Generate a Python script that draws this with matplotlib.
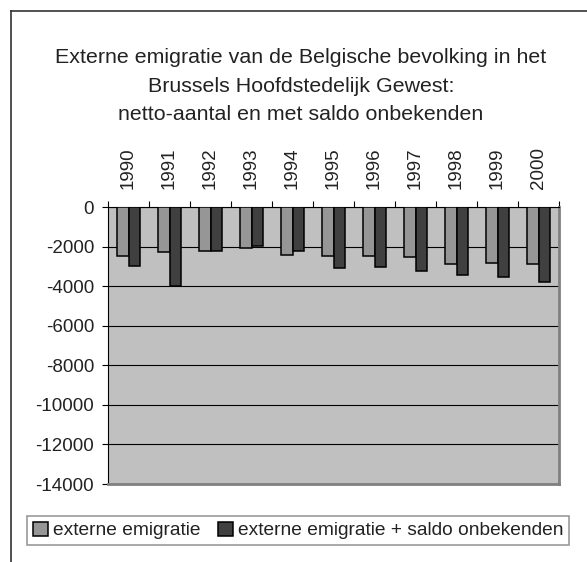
import matplotlib
matplotlib.use("Agg")
import matplotlib.pyplot as plt
import numpy as np

plt.rcParams['font.family'] = ['Liberation Sans', 'DejaVu Sans']
plt.rcParams['axes.unicode_minus'] = False

years = ["1990", "1991", "1992", "1993", "1994", "1995", "1996", "1997", "1998", "1999", "2000"]
extern = [-2500, -2280, -2200, -2050, -2420, -2470, -2500, -2540, -2870, -2840, -2900]
extern_saldo = [-3000, -4010, -2230, -1980, -2230, -3070, -3020, -3210, -3430, -3540, -3800]
labels = ["externe emigratie", "externe emigratie + saldo onbekenden"]
title = ("Externe emigratie van de Belgische bevolking in het\n"
         "Brussels Hoofdstedelijk Gewest:\n"
         "netto-aantal en met saldo onbekenden")

W, H = 587, 562
fig = plt.figure(figsize=(W / 100, H / 100), dpi=100)

# outer frame (only top and left edge visible in the original crop)
fig.add_artist(plt.Line2D([11 / W, 1], [1 - 11 / H, 1 - 11 / H], color="#333333", lw=1.2))
fig.add_artist(plt.Line2D([11 / W, 11 / W], [0, 1 - 11 / H], color="#333333", lw=1.2))

fig.text(301 / W, 1 - 86 / H, title, ha="center", va="center", fontsize=15.4, linespacing=1.62,
         color="#222222")

ax = fig.add_axes([108 / W, 1 - 484 / H, (559 - 108) / W, (484 - 207) / H])
ax.set_facecolor("#c0c0c0")

x = np.arange(len(years))
w = 0.29
ax.bar(x - w / 2, extern, w, color="#969696", edgecolor="black", linewidth=1.1, label=labels[0], zorder=3)
ax.bar(x + w / 2, extern_saldo, w, color="#404040", edgecolor="black", linewidth=1.1, label=labels[1], zorder=3)

ax.set_xlim(-0.5, len(years) - 0.5)
ax.set_ylim(-14000, 0)
ax.set_yticks(np.arange(-14000, 1, 2000))
ax.yaxis.grid(True, color="black", linewidth=0.8, zorder=1)
ax.tick_params(axis="y", labelsize=13.5, length=4, pad=6, width=0.8, labelcolor="#222222")

ax.xaxis.tick_top()
ax.set_xticks(x)
ax.set_xticklabels(years, rotation=90, fontsize=13.5, color="#222222")
ax.set_xticks(np.arange(-0.5, len(years), 1), minor=True)
ax.tick_params(axis="x", which="major", length=0, pad=13)
ax.tick_params(axis="x", which="minor", length=4.5, width=0.8, top=True, bottom=False)

ax.spines["left"].set_color("black")
ax.spines["top"].set_color("black")
ax.spines["right"].set_color("#808080")
ax.spines["bottom"].set_color("#808080")
ax.spines["right"].set_linewidth(2)
ax.spines["bottom"].set_linewidth(2)

leg = fig.legend(loc="center", bbox_to_anchor=(298 / W, 1 - 530.5 / H), ncol=2, fontsize=13.8,
                 frameon=True, fancybox=False, edgecolor="#808080", handlelength=0.8, handleheight=0.8,
                 handletextpad=0.25, columnspacing=0.9, borderpad=0.3, borderaxespad=0,
                 labelcolor="#222222")
leg.get_frame().set_linewidth(1.2)

plt.savefig("out.png", dpi=100)
